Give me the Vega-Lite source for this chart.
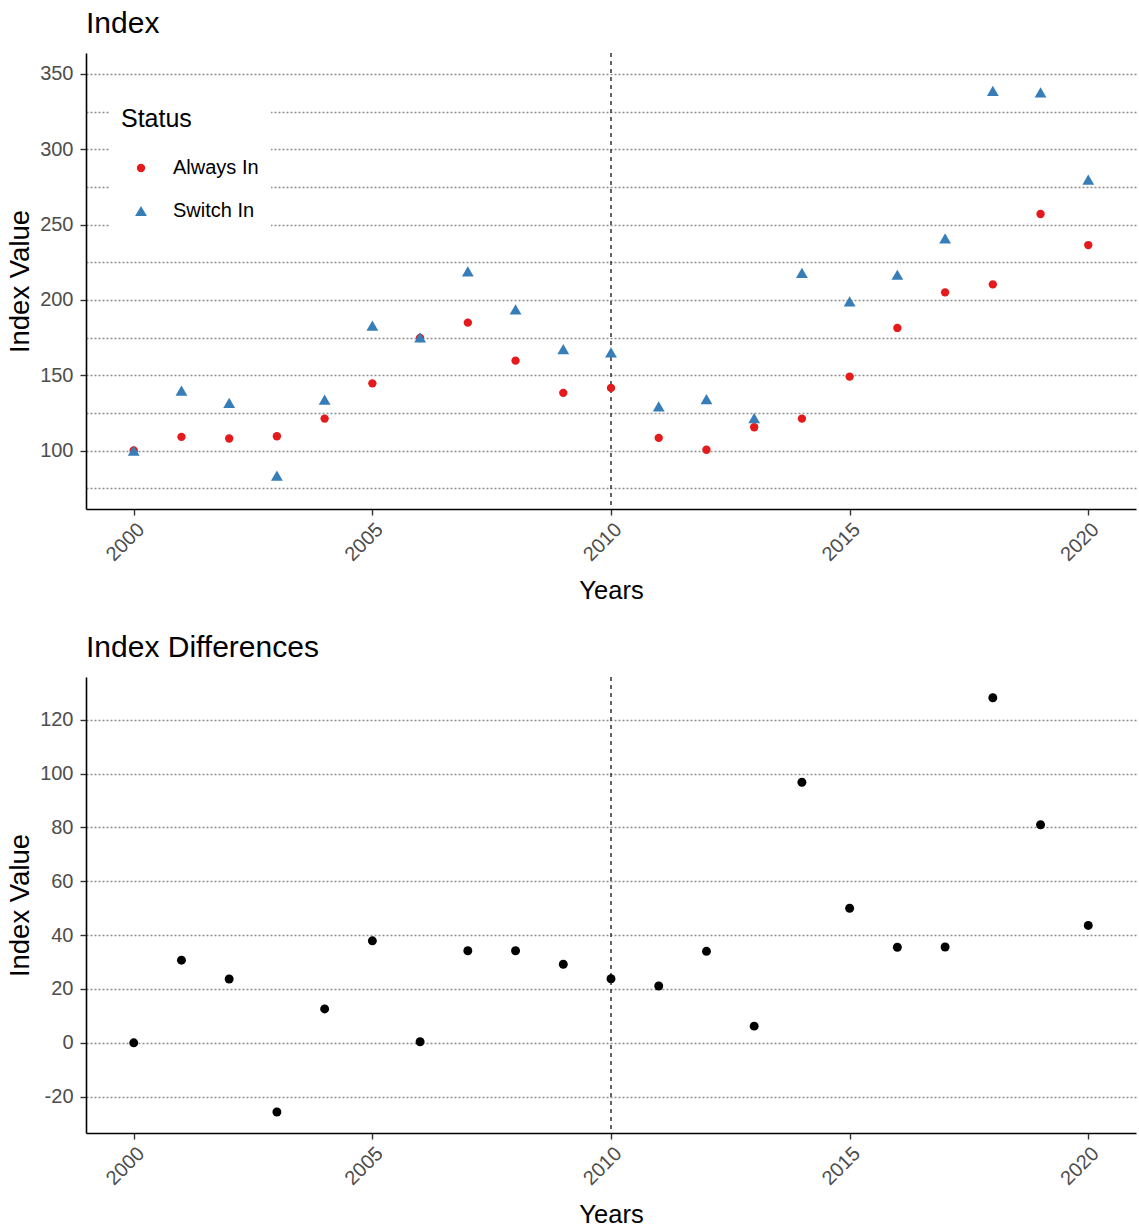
{
  "$schema": "https://vega.github.io/schema/vega-lite/v6.json",
  "background": "white",
  "padding": {"left": 6, "top": 9, "right": 2, "bottom": 2},
  "spacing": 28,
  "config": {
    "font": "Liberation Sans",
    "view": {"stroke": null},
    "axis": {
      "domainColor": "black", "domainWidth": 1.6,
      "tickColor": "#333333", "tickWidth": 1.4, "tickSize": 6,
      "labelColor": "#4D4D4D", "labelFontSize": 20, "labelPadding": 4, "labelFont": "Liberation Sans",
      "titleFontSize": 25.5, "titleFontWeight": "normal", "titleColor": "black", "titleFont": "Liberation Sans",
      "gridColor": "#8C8C8C", "gridDash": [2, 2], "gridWidth": 1.4
    },
    "title": {"fontSize": 30, "fontWeight": "normal", "anchor": "start", "frame": "group", "color": "black", "font": "Liberation Sans", "offset": 13}
  },
  "datasets": {
    "index": [
      {"year": 2000, "status": "Always In", "value": 100},
      {"year": 2001, "status": "Always In", "value": 109.1},
      {"year": 2002, "status": "Always In", "value": 108},
      {"year": 2003, "status": "Always In", "value": 109.5},
      {"year": 2004, "status": "Always In", "value": 121.2},
      {"year": 2005, "status": "Always In", "value": 144.6},
      {"year": 2006, "status": "Always In", "value": 174.7},
      {"year": 2007, "status": "Always In", "value": 184.9},
      {"year": 2008, "status": "Always In", "value": 159.7},
      {"year": 2009, "status": "Always In", "value": 138.3},
      {"year": 2010, "status": "Always In", "value": 141.6},
      {"year": 2011, "status": "Always In", "value": 108.4},
      {"year": 2012, "status": "Always In", "value": 100.5},
      {"year": 2013, "status": "Always In", "value": 115.5},
      {"year": 2014, "status": "Always In", "value": 121.2},
      {"year": 2015, "status": "Always In", "value": 149.1},
      {"year": 2016, "status": "Always In", "value": 181.4},
      {"year": 2017, "status": "Always In", "value": 205},
      {"year": 2018, "status": "Always In", "value": 210.3},
      {"year": 2019, "status": "Always In", "value": 257},
      {"year": 2020, "status": "Always In", "value": 236.4},
      {"year": 2000, "status": "Switch In", "value": 100},
      {"year": 2001, "status": "Switch In", "value": 139.8},
      {"year": 2002, "status": "Switch In", "value": 131.6},
      {"year": 2003, "status": "Switch In", "value": 83.4},
      {"year": 2004, "status": "Switch In", "value": 133.8},
      {"year": 2005, "status": "Switch In", "value": 182.9},
      {"year": 2006, "status": "Switch In", "value": 175.1},
      {"year": 2007, "status": "Switch In", "value": 218.9},
      {"year": 2008, "status": "Switch In", "value": 193.7},
      {"year": 2009, "status": "Switch In", "value": 167.4},
      {"year": 2010, "status": "Switch In", "value": 165.2},
      {"year": 2011, "status": "Switch In", "value": 129.4},
      {"year": 2012, "status": "Switch In", "value": 134.2},
      {"year": 2013, "status": "Switch In", "value": 121.6},
      {"year": 2014, "status": "Switch In", "value": 218},
      {"year": 2015, "status": "Switch In", "value": 199},
      {"year": 2016, "status": "Switch In", "value": 216.7},
      {"year": 2017, "status": "Switch In", "value": 240.8},
      {"year": 2018, "status": "Switch In", "value": 338.7},
      {"year": 2019, "status": "Switch In", "value": 337.8},
      {"year": 2020, "status": "Switch In", "value": 279.8}
    ],
    "diff": [
      {"year": 2000, "diff": 0},
      {"year": 2001, "diff": 30.7},
      {"year": 2002, "diff": 23.7},
      {"year": 2003, "diff": -25.7},
      {"year": 2004, "diff": 12.6},
      {"year": 2005, "diff": 37.9},
      {"year": 2006, "diff": 0.4},
      {"year": 2007, "diff": 34.2},
      {"year": 2008, "diff": 34.2},
      {"year": 2009, "diff": 29.2},
      {"year": 2010, "diff": 23.8},
      {"year": 2011, "diff": 21.1},
      {"year": 2012, "diff": 34},
      {"year": 2013, "diff": 6.2},
      {"year": 2014, "diff": 96.8},
      {"year": 2015, "diff": 50},
      {"year": 2016, "diff": 35.5},
      {"year": 2017, "diff": 35.6},
      {"year": 2018, "diff": 128.2},
      {"year": 2019, "diff": 81},
      {"year": 2020, "diff": 43.6}
    ],
    "marker": [{"year": 2010}]
  },
  "vconcat": [
    {
      "title": "Index",
      "width": 1050,
      "height": 456,
      "encoding": {
        "x": {
          "field": "year", "type": "quantitative",
          "scale": {"domain": [1999, 2021], "nice": false, "zero": false},
          "axis": {"values": [2000, 2005, 2010, 2015, 2020], "format": "d", "labelAngle": -45, "title": "Years", "titlePadding": 14, "grid": false}
        }
      },
      "layer": [
        {
          "data": {"name": "marker"},
          "mark": {"type": "rule", "strokeDash": [4, 4], "color": "#333333", "strokeWidth": 1.5},
          "encoding": {}
        },
        {
          "data": {"name": "index"},
          "mark": {"type": "point", "filled": true, "opacity": 1},
          "encoding": {
            "y": {
              "field": "value", "type": "quantitative",
              "scale": {"domain": [61.2, 363.9], "nice": false, "zero": false},
              "axis": {
                "values": [75, 100, 125, 150, 175, 200, 225, 250, 275, 300, 325, 350],
                "labelExpr": "datum.value % 50 === 0 ? datum.label : ''",
                "tickOpacity": {"condition": {"test": "datum.value % 50 !== 0", "value": 0}, "value": 1},
                "grid": true, "title": "Index Value", "titleFontSize": 27.5, "titlePadding": 5, "labelPadding": 7
              }
            },
            "color": {
              "field": "status", "type": "nominal",
              "scale": {"domain": ["Always In", "Switch In"], "range": ["#E41A1C", "#377EB8"]},
              "legend": {
                "title": "Status", "orient": "none", "legendX": 23, "legendY": 42,
                "fillColor": "white", "padding": 12,
                "titleFontSize": 25, "titleFontWeight": "normal", "titleColor": "black", "titlePadding": 26,
                "labelFontSize": 20, "labelColor": "black", "labelOffset": 22,
                "symbolOffset": 10, "rowPadding": 23, "symbolStrokeWidth": 0
              }
            },
            "shape": {
              "field": "status", "type": "nominal",
              "scale": {"domain": ["Always In", "Switch In"], "range": ["circle", "triangle-up"]}
            },
            "size": {
              "field": "status", "type": "nominal",
              "scale": {"domain": ["Always In", "Switch In"], "range": [70, 140]}
            }
          }
        }
      ]
    },
    {
      "title": "Index Differences",
      "width": 1050,
      "height": 456,
      "encoding": {
        "x": {
          "field": "year", "type": "quantitative",
          "scale": {"domain": [1999, 2021], "nice": false, "zero": false},
          "axis": {"values": [2000, 2005, 2010, 2015, 2020], "format": "d", "labelAngle": -45, "title": "Years", "titlePadding": 14, "grid": false}
        }
      },
      "layer": [
        {
          "data": {"name": "marker"},
          "mark": {"type": "rule", "strokeDash": [4, 4], "color": "#333333", "strokeWidth": 1.5},
          "encoding": {}
        },
        {
          "data": {"name": "diff"},
          "mark": {"type": "point", "filled": true, "opacity": 1, "color": "black", "size": 80},
          "encoding": {
            "y": {
              "field": "diff", "type": "quantitative",
              "scale": {"domain": [-33.5, 135.9], "nice": false, "zero": false},
              "axis": {
                "values": [-20, 0, 20, 40, 60, 80, 100, 120],
                "labelExpr": "toString(datum.value)",
                "grid": true, "title": "Index Value", "titleFontSize": 27.5, "titlePadding": 5, "labelPadding": 7
              }
            }
          }
        }
      ]
    }
  ]
}
